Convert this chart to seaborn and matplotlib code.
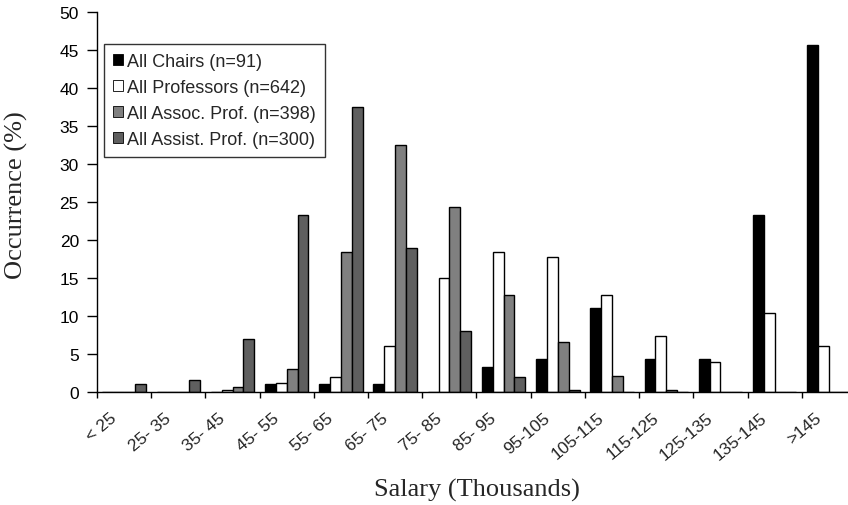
import matplotlib
matplotlib.use("Agg")
import matplotlib.pyplot as plt
import matplotlib.transforms as mtransforms
from matplotlib.patches import Patch
from matplotlib.ticker import FixedLocator
import pandas as pd
import seaborn as sns

categories = ["< 25", "25- 35", "35- 45", "45- 55", "55- 65", "65- 75", "75- 85",
              "85- 95", "95-105", "105-115", "115-125", "125-135", "135-145", ">145"]
series_names = ["All Chairs (n=91)", "All Professors (n=642)",
                "All Assoc. Prof. (n=398)", "All Assist. Prof. (n=300)"]
chairs = [0, 0, 0, 1.1, 1.1, 1.1, 0, 3.3, 4.4, 11.1, 4.4, 4.4, 23.3, 45.7]
professors = [0, 0, 0.3, 1.2, 2.0, 6.0, 15.0, 18.4, 17.7, 12.7, 7.4, 3.9, 10.4, 6.1]
assoc = [0, 0, 0.7, 3.0, 18.4, 32.5, 24.3, 12.7, 6.6, 2.1, 0.2, 0, 0, 0]
assist = [1.0, 1.6, 7.0, 23.3, 37.5, 18.9, 8.0, 2.0, 0.3, 0, 0, 0, 0, 0]
colors = ["#000000", "#ffffff", "#808080", "#5f5f5f"]

rows = []
for name, vals in zip(series_names, [chairs, professors, assoc, assist]):
    for cat, v in zip(categories, vals):
        rows.append({"Salary": cat, "Occurrence": v, "Group": name})
df = pd.DataFrame(rows)

sns.set_style("ticks")
plt.rcParams["font.family"] = ["Liberation Sans", "DejaVu Sans"]

fig = plt.figure(figsize=(8.48, 5.06), dpi=100)
ax = fig.add_axes([97 / 848, 113 / 506, 759 / 848, 380 / 506])

sns.barplot(data=df, x="Salary", y="Occurrence", hue="Group", order=categories,
            hue_order=series_names, palette=colors, saturation=1,
            edgecolor="black", linewidth=1.0, width=0.8, ax=ax, legend=False)

ax.set_xlim(-0.5, len(categories) - 0.5)
ax.set_ylim(0, 50)
ax.set_yticks(range(0, 51, 5))
sns.despine(ax=ax)
for s in ["left", "bottom"]:
    ax.spines[s].set_color("black")
    ax.spines[s].set_linewidth(1.0)

ax.tick_params(axis="y", direction="out", length=7, width=1, pad=6,
               labelsize=12.5, colors="black")
ax.tick_params(axis="x", which="major", length=0, pad=17, labelsize=12.5)
ax.xaxis.set_minor_locator(FixedLocator([i - 0.5 for i in range(len(categories) + 1)]))
ax.tick_params(axis="x", which="minor", direction="out", length=4, width=1, colors="black")

ax.set_xticks(range(len(categories)))
ax.set_xticklabels(categories, rotation=40, ha="right", va="center",
                   rotation_mode="anchor")
offset = mtransforms.ScaledTranslation(-7 / 72, 0, fig.dpi_scale_trans)
for lab in ax.get_xticklabels():
    lab.set_transform(lab.get_transform() + offset)

ax.set_xlabel("Salary (Thousands)", family="Liberation Serif", fontsize=19)
ax.set_ylabel("Occurrence (%)", family="Liberation Serif", fontsize=19)
ax.xaxis.set_label_coords(0.5, -0.225)
ax.yaxis.set_label_coords(-0.091, 0.52)

handles = [Patch(facecolor=c, edgecolor="black", linewidth=0.6) for c in colors]
leg = ax.legend(handles, series_names, loc="upper left",
                bbox_to_anchor=(104 / 848, 1 - 45 / 506), bbox_transform=fig.transFigure,
                borderaxespad=0, fontsize=13, frameon=True, fancybox=False,
                handlelength=0.55, handleheight=0.55, handletextpad=0.25,
                labelspacing=0.5, borderpad=0.5)
leg.get_frame().set_edgecolor("black")
leg.get_frame().set_linewidth(1.0)

fig.savefig("out.png", dpi=100)
